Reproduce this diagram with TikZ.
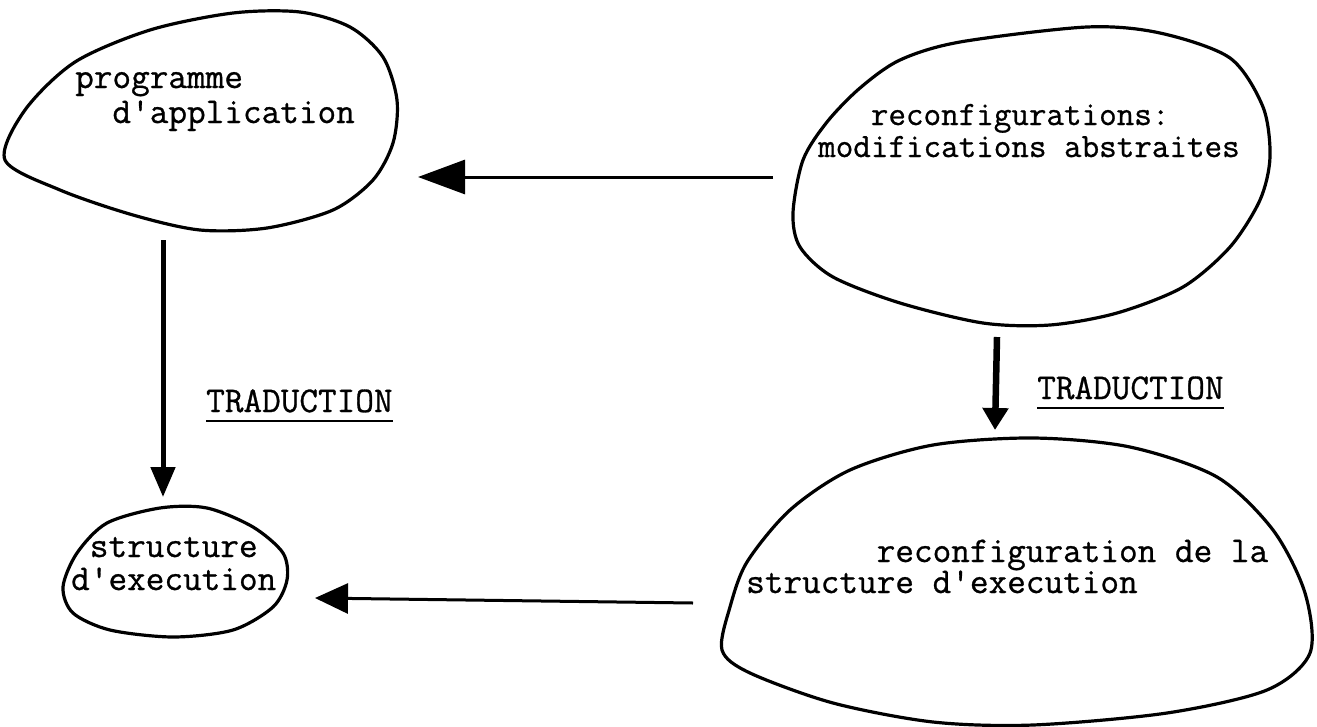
\documentclass[tikz,border=0pt]{standalone}
\usepackage{fontspec}
\newfontfamily\machine[FakeBold=0.8]{Latin Modern Mono}
\usetikzlibrary{arrows.meta}
\newcommand\souligne[1]{\setbox0\hbox{#1}\rlap{\rule[-10.2pt]{\wd0}{2.4pt}}\box0}

\begin{document}
\begin{tikzpicture}[
  x=1pt,y=-1pt,
  blob/.style={line width=3.2pt,line join=round},
  lbl/.style={align=left,inner sep=0pt,anchor=base west,font=\machine\fontsize{36.2}{#1}\selectfont},
  arr/.style n args={3}{line width=#1,-{Triangle[length=#2,width=#3]}}
]
  \useasboundingbox (0,0) rectangle (1317,726);
  % the four blobs
  \draw[blob] plot[smooth cycle] coordinates {(5,160) (25,110) (75,62) (150,30) (233,13) (300,12) (350,27) (383,57) (397,100) (393,143) (373,180) (333,210) (267,228) (200,230) (133,215) (60,190)};
  \draw[blob] plot[smooth cycle] coordinates {(793,213) (803,160) (827,122) (860,88) (900,60) (960,42) (1087,27) (1160,33) (1230,58) (1263,107) (1270,157) (1260,200) (1230,247) (1183,287) (1117,313) (1050,325) (983,323) (900,303) (833,277) (800,247)};
  \draw[blob] plot[smooth cycle] coordinates {(63,587) (77,553) (107,523) (160,508) (207,508) (253,527) (283,553) (287,580) (273,607) (233,630) (173,637) (110,630) (73,613)};
  \draw[blob] plot[smooth cycle] coordinates {(1033,438) (1130,447) (1217,477) (1273,530) (1305,593) (1310,653) (1267,690) (1167,713) (1033,725) (933,722) (833,703) (750,673) (722,650) (730,607) (747,562) (790,510) (850,470) (933,445)};
  % texts
  \node[lbl=35] (prog) at (75,123) {programme\\~~d'application};
  \node[lbl=32,font=\machine\fontsize{34.1}{32}\selectfont] (modif) at (818,157) {~~~reconfigurations:\\modifications abstraites};
  \node[lbl=33] (struct) at (71,590) {~structure\\d'execution};
  \node[lbl=31] (reconf) at (746,593) {~~~~~~~reconfiguration de la\\structure d'execution};
  \node[lbl=10] (trad1) at (206,412) {\souligne{TRADUCTION}};
  \node[lbl=10] (trad2) at (1037,399) {\souligne{TRADUCTION}};
  % arrows
  \coordinate (ha1) at (773,177); \coordinate (ha2) at (418,177);
  \coordinate (hb1) at (693,603); \coordinate (hb2) at (315,598);
  \coordinate (va1) at (163,240); \coordinate (va2) at (163,497);
  \coordinate (vb1) at (997,337); \coordinate (vb2) at (995,430);
  \draw[arr={3pt}{47pt}{34pt}] (ha1) -- (ha2);
  \draw[arr={3pt}{33pt}{30pt}] (hb1) -- (hb2);
  \draw[arr={5pt}{30pt}{24pt}] (va1) -- (va2);
  \draw[arr={6.5pt}{22pt}{25pt}] (vb1) -- (vb2);
\end{tikzpicture}
\end{document}
